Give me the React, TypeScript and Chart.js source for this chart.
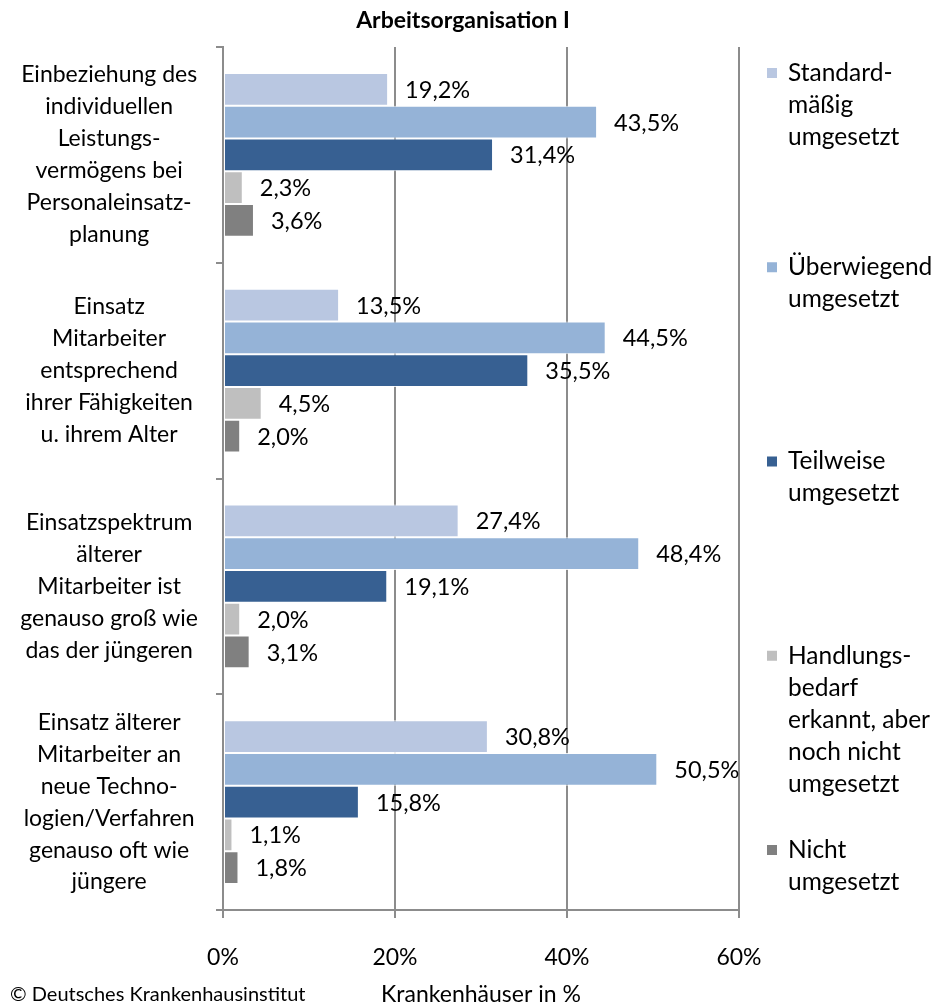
import { useEffect, useRef } from 'react';
import { Chart, registerables } from 'chart.js';

Chart.register(...registerables);

// ---- data ----
const chartTitle = 'Arbeitsorganisation I';
const xAxisTitle = 'Krankenhäuser in %';
const footerText = '© Deutsches Krankenhausinstitut';

const categories: string[][] = [
  ['Einbeziehung des', 'individuellen', 'Leistungs-', 'vermögens bei', 'Personaleinsatz-', 'planung'],
  ['Einsatz', 'Mitarbeiter', 'entsprechend', 'ihrer Fähigkeiten', 'u. ihrem Alter'],
  ['Einsatzspektrum', 'älterer', 'Mitarbeiter ist', 'genauso groß wie', 'das der jüngeren'],
  ['Einsatz älterer', 'Mitarbeiter an', 'neue Techno-', 'logien/Verfahren', 'genauso oft wie', 'jüngere'],
];

const seriesNames: string[][] = [
  ['Standard-', 'mäßig', 'umgesetzt'],
  ['Überwiegend', 'umgesetzt'],
  ['Teilweise', 'umgesetzt'],
  ['Handlungs-', 'bedarf', 'erkannt, aber', 'noch nicht', 'umgesetzt'],
  ['Nicht', 'umgesetzt'],
];

const standardmaessig = [19.2, 13.5, 27.4, 30.8];
const ueberwiegend = [43.5, 44.5, 48.4, 50.5];
const teilweise = [31.4, 35.5, 19.1, 15.8];
const handlungsbedarf = [2.3, 4.5, 2.0, 1.1];
const nicht = [3.6, 2.0, 3.1, 1.8];

const seriesValues = [standardmaessig, ueberwiegend, teilweise, handlungsbedarf, nicht];
const seriesColors = ['#B9C7E1', '#95B3D7', '#376092', '#BFBFBF', '#808080'];

const xMin = 0;
const xMax = 60;
const xStep = 20;

// ---- styling ----
const FONT = 'Lato';
const W = 935;
const H = 1008;
const AXIS_COLOR = '#8C8C8C';

const fmt = (v: number) => v.toFixed(1).replace('.', ',') + '%';

const overlayPlugin = {
  id: 'overlay',
  afterDatasetsDraw(chart: any) {
    const ctx = chart.ctx;
    ctx.save();
    ctx.fillStyle = '#000';
    ctx.font = `23.5px ${FONT}`;
    ctx.textAlign = 'left';
    ctx.textBaseline = 'middle';
    chart.data.datasets.forEach((ds: any, di: number) => {
      const meta = chart.getDatasetMeta(di);
      meta.data.forEach((bar: any, i: number) => {
        ctx.fillText(fmt(ds.data[i]), bar.x + 17, bar.y + 1);
      });
    });
    ctx.restore();
  },
  afterDraw(chart: any) {
    const ctx = chart.ctx;
    ctx.save();
    ctx.fillStyle = '#000';
    ctx.font = `bold 23px ${FONT}`;
    ctx.textAlign = 'center';
    ctx.textBaseline = 'middle';
    ctx.fillText(chartTitle, 463, 21);
    ctx.font = `20px ${FONT}`;
    ctx.textAlign = 'left';
    ctx.fillText(footerText, 10, 995);
    const top = 73;
    const step = (850 - 73) / (seriesNames.length - 1);
    ctx.font = `24.5px ${FONT}`;
    seriesNames.forEach((lines, i) => {
      const y0 = top + i * step;
      ctx.fillStyle = seriesColors[i];
      ctx.fillRect(767, y0 - 5, 10, 10);
      ctx.fillStyle = '#000';
      lines.forEach((ln, k) => ctx.fillText(ln, 788, y0 + k * 32));
    });
    ctx.restore();
  },
};

export default function App() {
  const ref = useRef<HTMLCanvasElement | null>(null);
  useEffect(() => {
    if (!ref.current) return;
    const chart = new Chart(ref.current, {
      type: 'bar',
      data: {
        labels: categories,
        datasets: seriesValues.map((vals, i) => ({
          label: seriesNames[i].join(' '),
          data: vals,
          backgroundColor: seriesColors[i],
          borderColor: 'rgba(255,255,255,0.85)',
          borderWidth: 1,
          borderSkipped: false,
          categoryPercentage: 0.76,
          barPercentage: 1,
        })),
      },
      options: {
        indexAxis: 'y',
        responsive: false,
        animation: false,
        layout: { padding: { top: 47, right: 196, bottom: 0, left: 0 } },
        plugins: {
          legend: { display: false },
          title: { display: false },
          tooltip: { enabled: false },
        },
        scales: {
          x: {
            min: xMin,
            max: xMax,
            ticks: {
              stepSize: xStep,
              callback: (v: any) => v + '%',
              color: '#000',
              font: { family: FONT, size: 23 },
              padding: 26,
            },
            grid: {
              color: AXIS_COLOR,
              lineWidth: 2,
              tickLength: 8,
              drawTicks: true,
            },
            border: { display: true, color: AXIS_COLOR, width: 2 },
            title: {
              display: true,
              text: xAxisTitle,
              color: '#000',
              font: { family: FONT, size: 23 },
              padding: { top: 0, bottom: 0 },
            },
            afterFit: (s: any) => {
              s.height = 98;
              s.paddingLeft = 0;
              s.paddingRight = 0;
            },
          },
          y: {
            ticks: {
              crossAlign: 'center',
              color: '#000',
              font: { family: FONT, size: 23, lineHeight: 1.39 },
              padding: 18,
            },
            grid: {
              offset: true,
              drawOnChartArea: false,
              drawTicks: true,
              tickLength: 7,
              color: AXIS_COLOR,
              lineWidth: 2,
            },
            border: { display: true, color: AXIS_COLOR, width: 2 },
            afterFit: (s: any) => {
              s.width = 223;
              s.paddingTop = 0;
              s.paddingBottom = 0;
            },
          },
        },
      },
      plugins: [overlayPlugin],
    } as any);
    return () => chart.destroy();
  }, []);
  return (
    <div style={{ position: 'fixed', left: 0, top: 0, width: W, height: H, background: '#fff' }}>
      <canvas ref={ref} width={W} height={H} style={{ display: 'block' }} />
    </div>
  );
}
